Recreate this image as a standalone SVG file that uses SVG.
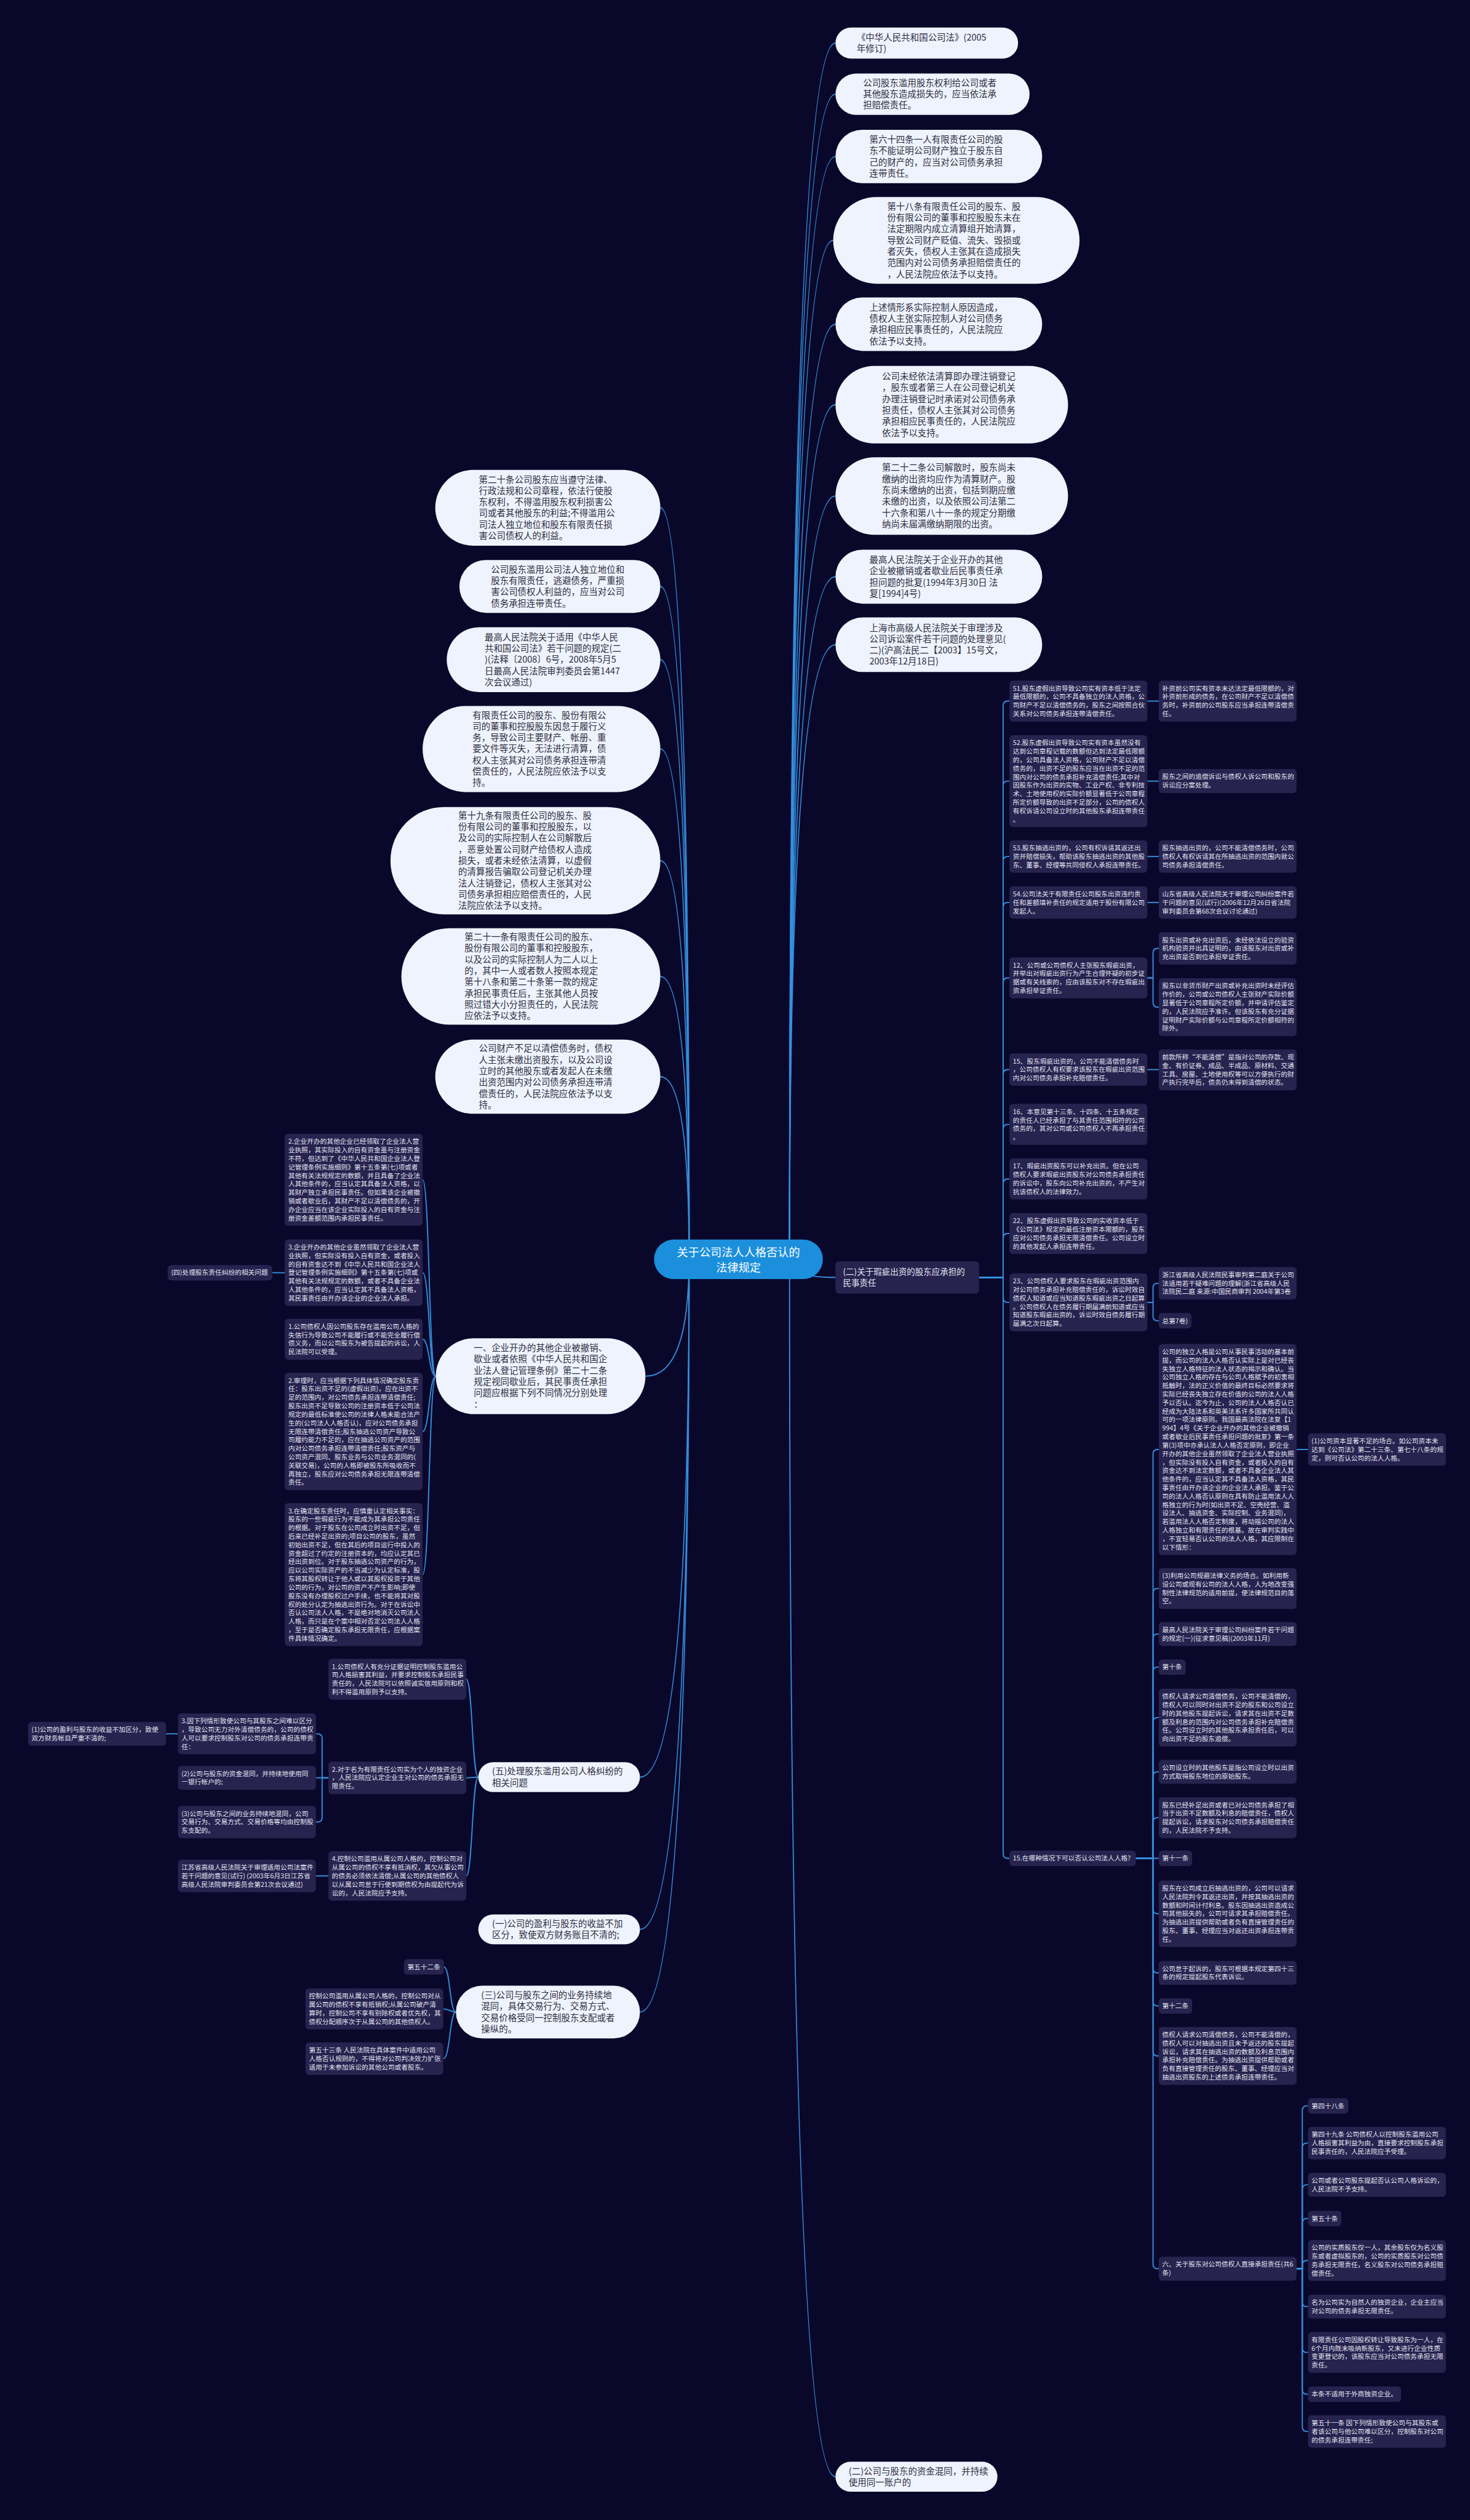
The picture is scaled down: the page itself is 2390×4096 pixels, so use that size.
<svg xmlns="http://www.w3.org/2000/svg" width="2390" height="4096" viewBox="0 0 2390 4096">
<style>
.p{fill:#eef3fd}
.d{fill:#26234f}
.pt{font-family:"Noto Sans CJK SC","Noto Sans",sans-serif;font-size:15.5px;fill:#2e2e3e}
.dt{font-family:"Noto Sans CJK SC","Noto Sans",sans-serif;font-size:11.5px;fill:#e4e4ef}
.dt2{font-family:"Noto Sans CJK SC","Noto Sans",sans-serif;font-size:14.5px;fill:#e4e4ef}
.rt{font-family:"Noto Sans CJK SC","Noto Sans",sans-serif;font-size:19.5px;fill:#ffffff}
#links path{fill:none;stroke:#3490e0;stroke-width:2}
</style>
<rect width="2390" height="4096" fill="#0a082a"/>
<g transform="scale(0.93359)">
<g id="links">
<path d="M1375 2192Q1375 75 1455 75"/>
<path d="M1375 2192Q1375 164 1455 164"/>
<path d="M1375 2192Q1375 272.5 1455 272.5"/>
<path d="M1375 2192Q1375 418.5 1451 418.5"/>
<path d="M1375 2192Q1375 564.5 1455 564.5"/>
<path d="M1375 2192Q1375 704.5 1455 704.5"/>
<path d="M1375 2192Q1375 863.5 1455 863.5"/>
<path d="M1375 2192Q1375 1004 1455 1004"/>
<path d="M1375 2192Q1375 1122.5 1455 1122.5"/>
<path d="M1375 2192Q1375 2224 1455 2224"/>
<path d="M1375 2192Q1375 4312 1455 4312"/>
<path d="M1200 2192Q1200 884 1150 884"/>
<path d="M1200 2192Q1200 1021 1150 1021"/>
<path d="M1200 2192Q1200 1148.5 1150 1148.5"/>
<path d="M1200 2192Q1200 1304 1150 1304"/>
<path d="M1200 2192Q1200 1498.5 1150 1498.5"/>
<path d="M1200 2192Q1200 1700 1150 1700"/>
<path d="M1200 2192Q1200 1874.5 1150 1874.5"/>
<path d="M1200 2192Q1200 2396 1124 2396"/>
<path d="M1200 2192Q1200 3094 1114.5 3094"/>
<path d="M1200 2192Q1200 3359 1114.5 3359"/>
<path d="M1200 2192Q1200 3503 1114.5 3503"/>
<path d="M759 2396C747 2396 748 2054 736 2054"/>
<path d="M759 2396C747 2396 748 2215.8 736 2215.8"/>
<path d="M759 2396C747 2396 748 2331.6 736 2331.6"/>
<path d="M759 2396C747 2396 748 2492.2 736 2492.2"/>
<path d="M759 2396C747 2396 748 2741.4 736 2741.4"/>
<path d="M474 2215.8H496"/>
<path d="M1705 2224H1747V1228.6Q1747 1220.6 1755 1220.6H1758"/>
<path d="M1705 2224H1747V1368Q1747 1360 1755 1360H1758"/>
<path d="M1705 2224H1747V1499.2Q1747 1491.2 1755 1491.2H1758"/>
<path d="M1705 2224H1747V1579.2Q1747 1571.2 1755 1571.2H1758"/>
<path d="M1705 2224H1747V1710.6Q1747 1702.6 1755 1702.6H1758"/>
<path d="M1705 2224H1747V1870.2Q1747 1862.2 1755 1862.2H1758"/>
<path d="M1705 2224H1747V1965.6Q1747 1957.6 1755 1957.6H1758"/>
<path d="M1705 2224H1747V2060.6Q1747 2052.6 1755 2052.6H1758"/>
<path d="M1705 2224H1747V2155.6Q1747 2147.6 1755 2147.6H1758"/>
<path d="M1705 2224H1747V2259.4Q1747 2267.4 1755 2267.4H1758"/>
<path d="M1705 2224H1747V3227.4Q1747 3235.4 1755 3235.4H1758"/>
<path d="M1998 1220.6H2018"/>
<path d="M1998 1360H2018"/>
<path d="M1998 1491.2H2018"/>
<path d="M1998 1571.2H2018"/>
<path d="M1998 1862.2H2018"/>
<path d="M1998 1702.6H2008V1659.2Q2008 1651.2 2016 1651.2H2018"/>
<path d="M1998 1702.6H2008V1745.4Q2008 1753.4 2016 1753.4H2018"/>
<path d="M1998 2267.4H2008V2242.2Q2008 2234.2 2016 2234.2H2018"/>
<path d="M1998 2267.4H2008V2291.4Q2008 2299.4 2016 2299.4H2018"/>
<path d="M1978 3235.4H2008V2531.6Q2008 2523.6 2016 2523.6H2018"/>
<path d="M1978 3235.4H2008V2773.6Q2008 2765.6 2016 2765.6H2018"/>
<path d="M1978 3235.4H2008V2852.8Q2008 2844.8 2016 2844.8H2018"/>
<path d="M1978 3235.4H2008V2910.4Q2008 2902.4 2016 2902.4H2018"/>
<path d="M1978 3235.4H2008V2998.4Q2008 2990.4 2016 2990.4H2018"/>
<path d="M1978 3235.4H2008V3092.8Q2008 3084.8 2016 3084.8H2018"/>
<path d="M1978 3235.4H2008V3172.6Q2008 3164.6 2016 3164.6H2018"/>
<path d="M1978 3235.4H2018"/>
<path d="M1978 3235.4H2008V3323.8Q2008 3331.8 2016 3331.8H2018"/>
<path d="M1978 3235.4H2008V3426.8Q2008 3434.8 2016 3434.8H2018"/>
<path d="M1978 3235.4H2008V3484.4Q2008 3492.4 2016 3492.4H2018"/>
<path d="M1978 3235.4H2008V3571.4Q2008 3579.4 2016 3579.4H2018"/>
<path d="M1978 3235.4H2008V3941.8Q2008 3949.8 2016 3949.8H2018"/>
<path d="M2258 2523.6H2278"/>
<path d="M2258 3949.8H2268V3674.4Q2268 3666.4 2276 3666.4H2278"/>
<path d="M2258 3949.8H2268V3739.2Q2268 3731.2 2276 3731.2H2278"/>
<path d="M2258 3949.8H2268V3811.8Q2268 3803.8 2276 3803.8H2278"/>
<path d="M2258 3949.8H2268V3870.4Q2268 3862.4 2276 3862.4H2278"/>
<path d="M2258 3949.8H2268V3943.6Q2268 3935.6 2276 3935.6H2278"/>
<path d="M2258 3949.8H2268V4007.8Q2268 4015.8 2276 4015.8H2278"/>
<path d="M2258 3949.8H2268V4087.6Q2268 4095.6 2276 4095.6H2278"/>
<path d="M2258 3949.8H2268V4160.4Q2268 4168.4 2276 4168.4H2278"/>
<path d="M2258 3949.8H2268V4225.2Q2268 4233.2 2276 4233.2H2278"/>
<path d="M833 3094C822 3094 823 2923.6 812 2923.6"/>
<path d="M833 3094C822 3094 823 3095.2 812 3095.2"/>
<path d="M833 3094C822 3094 823 3266 812 3266"/>
<path d="M572 3095.2H561V3026.6Q561 3018.6 553 3018.6H550"/>
<path d="M572 3095.2H550"/>
<path d="M572 3095.2H561V3164.2Q561 3172.2 553 3172.2H550"/>
<path d="M310 3018.6H289"/>
<path d="M572 3266H550"/>
<path d="M794 3503C783 3503 784 3424.4 773 3424.4"/>
<path d="M794 3503C783 3503 784 3497.6 772 3497.6"/>
<path d="M794 3503C783 3503 784 3584.2 772 3584.2"/>
</g>

<g id="root"><rect x="1139" y="2158" width="294" height="69" rx="34.5" fill="#1b8fdc"/><text class="rt" text-anchor="middle" y="2187"><tspan x="1286">关于公司法人人格否认的</tspan><tspan x="1286" dy="27">法律规定</tspan></text></g>

<g id="n1"><rect class="p" x="1455" y="48" width="318" height="54" rx="27"/><text class="pt" y="70.6"><tspan x="1492">《中华人民共和国公司法》(2005</tspan><tspan x="1492" dy="19.6">年修订)</tspan></text></g>
<g id="n2"><rect class="p" x="1455" y="128" width="338" height="72" rx="36"/><text class="pt" y="149.8"><tspan x="1503">公司股东滥用股东权利给公司或者</tspan><tspan x="1503" dy="19.6">其他股东造成损失的，应当依法承</tspan><tspan x="1503" dy="19.6">担赔偿责任。</tspan></text></g>
<g id="n3"><rect class="p" x="1455" y="226" width="360" height="93" rx="46.5"/><text class="pt" y="248.5"><tspan x="1514">第六十四条一人有限责任公司的股</tspan><tspan x="1514" dy="19.6">东不能证明公司财产独立于股东自</tspan><tspan x="1514" dy="19.6">己的财产的，应当对公司债务承担</tspan><tspan x="1514" dy="19.6">连带责任。</tspan></text></g>
<g id="n4"><rect class="p" x="1451" y="343" width="429" height="151" rx="75.5"/><text class="pt" y="365.1"><tspan x="1545">第十八条有限责任公司的股东、股</tspan><tspan x="1545" dy="19.6">份有限公司的董事和控股股东未在</tspan><tspan x="1545" dy="19.6">法定期限内成立清算组开始清算，</tspan><tspan x="1545" dy="19.6">导致公司财产贬值、流失、毁损或</tspan><tspan x="1545" dy="19.6">者灭失，债权人主张其在造成损失</tspan><tspan x="1545" dy="19.6">范围内对公司债务承担赔偿责任的</tspan><tspan x="1545" dy="19.6">，人民法院应依法予以支持。</tspan></text></g>
<g id="n5"><rect class="p" x="1455" y="518" width="360" height="93" rx="46.5"/><text class="pt" y="540.5"><tspan x="1514">上述情形系实际控制人原因造成，</tspan><tspan x="1514" dy="19.6">债权人主张实际控制人对公司债务</tspan><tspan x="1514" dy="19.6">承担相应民事责任的，人民法院应</tspan><tspan x="1514" dy="19.6">依法予以支持。</tspan></text></g>
<g id="n6"><rect class="p" x="1455" y="637" width="405" height="135" rx="67.5"/><text class="pt" y="660.9"><tspan x="1536">公司未经依法清算即办理注销登记</tspan><tspan x="1536" dy="19.6">，股东或者第三人在公司登记机关</tspan><tspan x="1536" dy="19.6">办理注销登记时承诺对公司债务承</tspan><tspan x="1536" dy="19.6">担责任，债权人主张其对公司债务</tspan><tspan x="1536" dy="19.6">承担相应民事责任的，人民法院应</tspan><tspan x="1536" dy="19.6">依法予以支持。</tspan></text></g>
<g id="n7"><rect class="p" x="1455" y="796" width="405" height="135" rx="67.5"/><text class="pt" y="819.9"><tspan x="1536">第二十二条公司解散时，股东尚未</tspan><tspan x="1536" dy="19.6">缴纳的出资均应作为清算财产。股</tspan><tspan x="1536" dy="19.6">东尚未缴纳的出资，包括到期应缴</tspan><tspan x="1536" dy="19.6">未缴的出资，以及依照公司法第二</tspan><tspan x="1536" dy="19.6">十六条和第八十一条的规定分期缴</tspan><tspan x="1536" dy="19.6">纳尚未届满缴纳期限的出资。</tspan></text></g>
<g id="n8"><rect class="p" x="1455" y="957" width="360" height="94" rx="47"/><text class="pt" y="980"><tspan x="1514">最高人民法院关于企业开办的其他</tspan><tspan x="1514" dy="19.6">企业被撤销或者歇业后民事责任承</tspan><tspan x="1514" dy="19.6">担问题的批复(1994年3月30日 法</tspan><tspan x="1514" dy="19.6">复[1994]4号)</tspan></text></g>
<g id="n9"><rect class="p" x="1455" y="1075" width="360" height="95" rx="47.5"/><text class="pt" y="1098.5"><tspan x="1514">上海市高级人民法院关于审理涉及</tspan><tspan x="1514" dy="19.6">公司诉讼案件若干问题的处理意见(</tspan><tspan x="1514" dy="19.6">二)(沪高法民二【2003】15号文，</tspan><tspan x="1514" dy="19.6">2003年12月18日)</tspan></text></g>

<g id="l1"><rect class="p" x="758" y="818" width="392" height="132" rx="66"/><text class="pt" y="840.4"><tspan x="834">第二十条公司股东应当遵守法律、</tspan><tspan x="834" dy="19.6">行政法规和公司章程，依法行使股</tspan><tspan x="834" dy="19.6">东权利，不得滥用股东权利损害公</tspan><tspan x="834" dy="19.6">司或者其他股东的利益;不得滥用公</tspan><tspan x="834" dy="19.6">司法人独立地位和股东有限责任损</tspan><tspan x="834" dy="19.6">害公司债权人的利益。</tspan></text></g>
<g id="l2"><rect class="p" x="800" y="975" width="350" height="92" rx="46"/><text class="pt" y="997"><tspan x="855">公司股东滥用公司法人独立地位和</tspan><tspan x="855" dy="19.6">股东有限责任，逃避债务，严重损</tspan><tspan x="855" dy="19.6">害公司债权人利益的，应当对公司</tspan><tspan x="855" dy="19.6">债务承担连带责任。</tspan></text></g>
<g id="l3"><rect class="p" x="778" y="1092" width="372" height="113" rx="56.5"/><text class="pt" y="1114.7"><tspan x="844">最高人民法院关于适用《中华人民</tspan><tspan x="844" dy="19.6">共和国公司法》若干问题的规定(二</tspan><tspan x="844" dy="19.6">)(法释〔2008〕6号，2008年5月5</tspan><tspan x="844" dy="19.6">日最高人民法院审判委员会第1447</tspan><tspan x="844" dy="19.6">次会议通过)</tspan></text></g>
<g id="l4"><rect class="p" x="736" y="1229" width="414" height="150" rx="75"/><text class="pt" y="1250.6"><tspan x="823">有限责任公司的股东、股份有限公</tspan><tspan x="823" dy="19.6">司的董事和控股股东因怠于履行义</tspan><tspan x="823" dy="19.6">务，导致公司主要财产、帐册、重</tspan><tspan x="823" dy="19.6">要文件等灭失，无法进行清算，债</tspan><tspan x="823" dy="19.6">权人主张其对公司债务承担连带清</tspan><tspan x="823" dy="19.6">偿责任的，人民法院应依法予以支</tspan><tspan x="823" dy="19.6">持。</tspan></text></g>
<g id="l5"><rect class="p" x="680" y="1405" width="470" height="187" rx="93.5"/><text class="pt" y="1425.5"><tspan x="798">第十九条有限责任公司的股东、股</tspan><tspan x="798" dy="19.6">份有限公司的董事和控股股东，以</tspan><tspan x="798" dy="19.6">及公司的实际控制人在公司解散后</tspan><tspan x="798" dy="19.6">，恶意处置公司财产给债权人造成</tspan><tspan x="798" dy="19.6">损失，或者未经依法清算，以虚假</tspan><tspan x="798" dy="19.6">的清算报告骗取公司登记机关办理</tspan><tspan x="798" dy="19.6">法人注销登记，债权人主张其对公</tspan><tspan x="798" dy="19.6">司债务承担相应赔偿责任的，人民</tspan><tspan x="798" dy="19.6">法院应依法予以支持。</tspan></text></g>
<g id="l6"><rect class="p" x="699" y="1616" width="451" height="168" rx="84"/><text class="pt" y="1636.8"><tspan x="809">第二十一条有限责任公司的股东、</tspan><tspan x="809" dy="19.6">股份有限公司的董事和控股股东，</tspan><tspan x="809" dy="19.6">以及公司的实际控制人为二人以上</tspan><tspan x="809" dy="19.6">的，其中一人或者数人按照本规定</tspan><tspan x="809" dy="19.6">第十八条和第二十条第一款的规定</tspan><tspan x="809" dy="19.6">承担民事责任后，主张其他人员按</tspan><tspan x="809" dy="19.6">照过错大小分担责任的，人民法院</tspan><tspan x="809" dy="19.6">应依法予以支持。</tspan></text></g>
<g id="l7"><rect class="p" x="758" y="1810" width="392" height="129" rx="64.5"/><text class="pt" y="1830.9"><tspan x="834">公司财产不足以清偿债务时，债权</tspan><tspan x="834" dy="19.6">人主张未缴出资股东，以及公司设</tspan><tspan x="834" dy="19.6">立时的其他股东或者发起人在未缴</tspan><tspan x="834" dy="19.6">出资范围内对公司债务承担连带清</tspan><tspan x="834" dy="19.6">偿责任的，人民法院应依法予以支</tspan><tspan x="834" dy="19.6">持。</tspan></text></g>
<g id="y1"><rect class="p" x="759" y="2330" width="365" height="132" rx="66"/><text class="pt" y="2352.4"><tspan x="825">一、企业开办的其他企业被撤销、</tspan><tspan x="825" dy="19.6">歇业或者依照《中华人民共和国企</tspan><tspan x="825" dy="19.6">业法人登记管理条例》第二十二条</tspan><tspan x="825" dy="19.6">规定视同歇业后，其民事责任承担</tspan><tspan x="825" dy="19.6">问题应根据下列不同情况分别处理</tspan><tspan x="825" dy="19.6">：</tspan></text></g>
<g id="p5"><rect class="p" x="833" y="3068" width="281.5" height="52" rx="26"/><text class="pt" y="3089.6"><tspan x="857">(五)处理股东滥用公司人格纠纷的</tspan><tspan x="857" dy="19.6">相关问题</tspan></text></g>
<g id="p1"><rect class="p" x="833" y="3333" width="281.5" height="52" rx="26"/><text class="pt" y="3354.6"><tspan x="857">(一)公司的盈利与股东的收益不加</tspan><tspan x="857" dy="19.6">区分，致使双方财务账目不清的;</tspan></text></g>
<g id="p3"><rect class="p" x="794" y="3457" width="320.5" height="92" rx="46"/><text class="pt" y="3479"><tspan x="838">(三)公司与股东之间的业务持续地</tspan><tspan x="838" dy="19.6">混同，具体交易行为、交易方式、</tspan><tspan x="838" dy="19.6">交易价格受同一控制股东支配或者</tspan><tspan x="838" dy="19.6">操纵的。</tspan></text></g>
<g id="bp"><rect class="p" x="1455" y="4286" width="282" height="52" rx="26"/><text class="pt" y="4307.6"><tspan x="1478">(二)公司与股东的资金混同，并持续</tspan><tspan x="1478" dy="19.6">使用同一账户的</tspan></text></g>

<g id="b2"><rect class="d" x="1455" y="2196" width="250" height="56" rx="6"/><text class="dt2" y="2219.4"><tspan x="1468">(二)关于瑕疵出资的股东应承担的</tspan><tspan x="1468" dy="19.6">民事责任</tspan></text></g>

<g id="d1"><rect class="d" x="496" y="1974" width="240" height="160" rx="6"/><text class="dt" y="1991.5"><tspan x="502">2.企业开办的其他企业已经领取了企业法人营</tspan><tspan x="502" dy="14.8">业执照，其实际投入的自有资金虽与注册资金</tspan><tspan x="502" dy="14.8">不符，但达到了《中华人民共和国企业法人登</tspan><tspan x="502" dy="14.8">记管理条例实施细则》第十五条第(七)项或者</tspan><tspan x="502" dy="14.8">其他有关法规规定的数额，并且具备了企业法</tspan><tspan x="502" dy="14.8">人其他条件的，应当认定其具备法人资格，以</tspan><tspan x="502" dy="14.8">其财产独立承担民事责任。但如果该企业被撤</tspan><tspan x="502" dy="14.8">销或者歇业后，其财产不足以清偿债务的，开</tspan><tspan x="502" dy="14.8">办企业应当在该企业实际投入的自有资金与注</tspan><tspan x="502" dy="14.8">册资金差额范围内承担民事责任。</tspan></text></g>
<g id="d2"><rect class="d" x="496" y="2158" width="240" height="115.6" rx="6"/><text class="dt" y="2175.5"><tspan x="502">3.企业开办的其他企业虽然领取了企业法人营</tspan><tspan x="502" dy="14.8">业执照，但实际没有投入自有资金，或者投入</tspan><tspan x="502" dy="14.8">的自有资金达不到《中华人民共和国企业法人</tspan><tspan x="502" dy="14.8">登记管理条例实施细则》第十五条第(七)项或</tspan><tspan x="502" dy="14.8">其他有关法规规定的数额，或者不具备企业法</tspan><tspan x="502" dy="14.8">人其他条件的，应当认定其不具备法人资格，</tspan><tspan x="502" dy="14.8">其民事责任由开办该企业的企业法人承担。</tspan></text></g>
<g id="d3"><rect class="d" x="496" y="2296" width="240" height="71.2" rx="6"/><text class="dt" y="2313.5"><tspan x="502">1.公司债权人因公司股东存在滥用公司人格的</tspan><tspan x="502" dy="14.8">失信行为导致公司不能履行或不能完全履行偿</tspan><tspan x="502" dy="14.8">债义务，而以公司股东为被告提起的诉讼，人</tspan><tspan x="502" dy="14.8">民法院可以受理。</tspan></text></g>
<g id="d4"><rect class="d" x="496" y="2390" width="240" height="204.4" rx="6"/><text class="dt" y="2407.5"><tspan x="502">2.审理时，应当根据下列具体情况确定股东责</tspan><tspan x="502" dy="14.8">任：股东出资不足的(虚假出资)，应在出资不</tspan><tspan x="502" dy="14.8">足的范围内，对公司债务承担连带清偿责任;</tspan><tspan x="502" dy="14.8">股东出资不足导致公司的注册资本低于公司法</tspan><tspan x="502" dy="14.8">规定的最低标准使公司的法律人格未能合法产</tspan><tspan x="502" dy="14.8">生的(公司法人人格否认)，应对公司债务承担</tspan><tspan x="502" dy="14.8">无限连带清偿责任;股东抽逃公司资产导致公</tspan><tspan x="502" dy="14.8">司履约能力不足的，应在抽逃公司资产的范围</tspan><tspan x="502" dy="14.8">内对公司债务承担连带清偿责任;股东资产与</tspan><tspan x="502" dy="14.8">公司资产混同、股东业务与公司业务混同的(</tspan><tspan x="502" dy="14.8">关联交易)，公司的人格即被股东所吸收而不</tspan><tspan x="502" dy="14.8">再独立，股东应对公司债务承担无限连带清偿</tspan><tspan x="502" dy="14.8">责任。</tspan></text></g>
<g id="d5"><rect class="d" x="496" y="2617" width="240" height="248.8" rx="6"/><text class="dt" y="2634.5"><tspan x="502">3.在确定股东责任时，应慎重认定相关事实：</tspan><tspan x="502" dy="14.8">股东的一些瑕疵行为不能成为其承担公司责任</tspan><tspan x="502" dy="14.8">的根据。对于股东在公司成立时出资不足，但</tspan><tspan x="502" dy="14.8">后来已经补足出资的;项目公司的股东，虽然</tspan><tspan x="502" dy="14.8">初始出资不足，但在其后的项目运行中投入的</tspan><tspan x="502" dy="14.8">资金超过了约定的注册资本的，均应认定其已</tspan><tspan x="502" dy="14.8">经出资到位。对于股东抽逃公司资产的行为，</tspan><tspan x="502" dy="14.8">应以公司实际资产的不当减少为认定标准，股</tspan><tspan x="502" dy="14.8">东将其股权转让于他人或以其股权投资于其他</tspan><tspan x="502" dy="14.8">公司的行为，对公司的资产不产生影响;即使</tspan><tspan x="502" dy="14.8">股东没有办理股权过户手续，也不能将其对股</tspan><tspan x="502" dy="14.8">权的处分认定为抽逃出资行为。对于在诉讼中</tspan><tspan x="502" dy="14.8">否认公司法人人格，不是绝对地消灭公司法人</tspan><tspan x="502" dy="14.8">人格，而只是在个案中相对否定公司法人人格</tspan><tspan x="502" dy="14.8">，至于是否确定股东承担无限责任，应根据案</tspan><tspan x="502" dy="14.8">件具体情况确定。</tspan></text></g>
<g id="d4h"><rect class="d" x="292" y="2202.4" width="182" height="26.8" rx="6"/><text class="dt" x="298" y="2219.9">(四)处理股东责任纠纷的相关问题</text></g>

<g id="b51"><rect class="d" x="1758" y="1185" width="240" height="71.2" rx="6"/><text class="dt" y="1202.5"><tspan x="1764">51.股东虚假出资导致公司实有资本低于法定</tspan><tspan x="1764" dy="14.8">最低限额的，公司不具备独立的法人资格，公</tspan><tspan x="1764" dy="14.8">司财产不足以清偿债务的，股东之间按照合伙</tspan><tspan x="1764" dy="14.8">关系对公司债务承担连带清偿责任。</tspan></text></g>
<g id="b51c"><rect class="d" x="2018" y="1185" width="240" height="71.2" rx="6"/><text class="dt" y="1202.5"><tspan x="2024">补资前公司实有资本未达法定最低限额的，对</tspan><tspan x="2024" dy="14.8">补资前形成的债务，在公司财产不足以清偿债</tspan><tspan x="2024" dy="14.8">务时，补资前的公司股东应当承担连带清偿责</tspan><tspan x="2024" dy="14.8">任。</tspan></text></g>
<g id="b52"><rect class="d" x="1758" y="1280" width="240" height="160" rx="6"/><text class="dt" y="1297.5"><tspan x="1764">52.股东虚假出资导致公司实有资本虽然没有</tspan><tspan x="1764" dy="14.8">达到公司章程记载的数额但达到法定最低限额</tspan><tspan x="1764" dy="14.8">的，公司具备法人资格，公司财产不足以清偿</tspan><tspan x="1764" dy="14.8">债务的，出资不足的股东应当在出资不足的范</tspan><tspan x="1764" dy="14.8">围内对公司的债务承担补充清偿责任;其中对</tspan><tspan x="1764" dy="14.8">因股东作为出资的实物、工业产权、非专利技</tspan><tspan x="1764" dy="14.8">术、土地使用权的实际价额显著低于公司章程</tspan><tspan x="1764" dy="14.8">所定价额导致的出资不足部分，公司的债权人</tspan><tspan x="1764" dy="14.8">有权诉请公司设立时的其他股东承担连带责任</tspan><tspan x="1764" dy="14.8">。</tspan></text></g>
<g id="b52c"><rect class="d" x="2018" y="1339" width="240" height="41.6" rx="6"/><text class="dt" y="1356.5"><tspan x="2024">股东之间的追偿诉讼与债权人诉公司和股东的</tspan><tspan x="2024" dy="14.8">诉讼应分案处理。</tspan></text></g>
<g id="b53"><rect class="d" x="1758" y="1463" width="240" height="56.4" rx="6"/><text class="dt" y="1480.5"><tspan x="1764">53.股东抽逃出资的，公司有权诉请其返还出</tspan><tspan x="1764" dy="14.8">资并赔偿损失，帮助该股东抽逃出资的其他股</tspan><tspan x="1764" dy="14.8">东、董事、经理等共同侵权人承担连带责任。</tspan></text></g>
<g id="b53c"><rect class="d" x="2018" y="1463" width="240" height="56.4" rx="6"/><text class="dt" y="1480.5"><tspan x="2024">股东抽逃出资的，公司不能清偿债务时，公司</tspan><tspan x="2024" dy="14.8">债权人有权诉请其在所抽逃出资的范围内就公</tspan><tspan x="2024" dy="14.8">司债务承担清偿责任。</tspan></text></g>
<g id="b54"><rect class="d" x="1758" y="1543" width="240" height="56.4" rx="6"/><text class="dt" y="1560.5"><tspan x="1764">54.公司法关于有限责任公司股东出资违约责</tspan><tspan x="1764" dy="14.8">任和差额填补责任的规定适用于股份有限公司</tspan><tspan x="1764" dy="14.8">发起人。</tspan></text></g>
<g id="b54c"><rect class="d" x="2018" y="1543" width="240" height="56.4" rx="6"/><text class="dt" y="1560.5"><tspan x="2024">山东省高级人民法院关于审理公司纠纷案件若</tspan><tspan x="2024" dy="14.8">干问题的意见(试行)(2006年12月26日省法院</tspan><tspan x="2024" dy="14.8">审判委员会第68次会议讨论通过)</tspan></text></g>
<g id="b12"><rect class="d" x="1758" y="1667" width="240" height="71.2" rx="6"/><text class="dt" y="1684.5"><tspan x="1764">12、公司或公司债权人主张股东瑕疵出资，</tspan><tspan x="1764" dy="14.8">并举出对瑕疵出资行为产生合理怀疑的初步证</tspan><tspan x="1764" dy="14.8">据或有关线索的，应由该股东对不存在瑕疵出</tspan><tspan x="1764" dy="14.8">资承担举证责任。</tspan></text></g>
<g id="b12c1"><rect class="d" x="2018" y="1623" width="240" height="56.4" rx="6"/><text class="dt" y="1640.5"><tspan x="2024">股东出资或补充出资后，未经依法设立的验资</tspan><tspan x="2024" dy="14.8">机构验资并出具证明的，由该股东对出资或补</tspan><tspan x="2024" dy="14.8">充出资是否到位承担举证责任。</tspan></text></g>
<g id="b12c2"><rect class="d" x="2018" y="1703" width="240" height="100.8" rx="6"/><text class="dt" y="1720.5"><tspan x="2024">股东以非货币财产出资或补充出资时未经评估</tspan><tspan x="2024" dy="14.8">作价的，公司或公司债权人主张财产实际价额</tspan><tspan x="2024" dy="14.8">显著低于公司章程所定价额，并申请评估鉴定</tspan><tspan x="2024" dy="14.8">的，人民法院应予准许。但该股东有充分证据</tspan><tspan x="2024" dy="14.8">证明财产实际价额与公司章程所定价额相符的</tspan><tspan x="2024" dy="14.8">除外。</tspan></text></g>
<g id="b15"><rect class="d" x="1758" y="1834" width="240" height="56.4" rx="6"/><text class="dt" y="1851.5"><tspan x="1764">15、股东瑕疵出资的，公司不能清偿债务时</tspan><tspan x="1764" dy="14.8">，公司债权人有权要求该股东在瑕疵出资范围</tspan><tspan x="1764" dy="14.8">内对公司债务承担补充赔偿责任。</tspan></text></g>
<g id="b15c"><rect class="d" x="2018" y="1827" width="240" height="71.2" rx="6"/><text class="dt" y="1844.5"><tspan x="2024">前款所称“不能清偿”是指对公司的存款、现</tspan><tspan x="2024" dy="14.8">金、有价证券、成品、半成品、原材料、交通</tspan><tspan x="2024" dy="14.8">工具、房屋、土地使用权等可以方便执行的财</tspan><tspan x="2024" dy="14.8">产执行完毕后，债务仍未得到清偿的状态。</tspan></text></g>
<g id="b16"><rect class="d" x="1758" y="1922" width="240" height="71.2" rx="6"/><text class="dt" y="1939.5"><tspan x="1764">16、本意见第十三条、十四条、十五条规定</tspan><tspan x="1764" dy="14.8">的责任人已经承担了与其责任范围相符的公司</tspan><tspan x="1764" dy="14.8">债务的，其对公司或公司债权人不再承担责任</tspan><tspan x="1764" dy="14.8">。</tspan></text></g>
<g id="b17"><rect class="d" x="1758" y="2017" width="240" height="71.2" rx="6"/><text class="dt" y="2034.5"><tspan x="1764">17、瑕疵出资股东可以补充出资。但在公司</tspan><tspan x="1764" dy="14.8">债权人要求瑕疵出资股东对公司债务承担责任</tspan><tspan x="1764" dy="14.8">的诉讼中，股东向公司补充出资的，不产生对</tspan><tspan x="1764" dy="14.8">抗该债权人的法律效力。</tspan></text></g>
<g id="b22"><rect class="d" x="1758" y="2112" width="240" height="71.2" rx="6"/><text class="dt" y="2129.5"><tspan x="1764">22、股东虚假出资导致公司的实收资本低于</tspan><tspan x="1764" dy="14.8">《公司法》规定的最低注册资本限额的，股东</tspan><tspan x="1764" dy="14.8">应对公司债务承担无限清偿责任。公司设立时</tspan><tspan x="1764" dy="14.8">的其他发起人承担连带责任。</tspan></text></g>
<g id="b23"><rect class="d" x="1758" y="2217" width="240" height="100.8" rx="6"/><text class="dt" y="2234.5"><tspan x="1764">23、公司债权人要求股东在瑕疵出资范围内</tspan><tspan x="1764" dy="14.8">对公司债务承担补充赔偿责任的，诉讼时效自</tspan><tspan x="1764" dy="14.8">债权人知道或应当知道股东瑕疵出资之日起算</tspan><tspan x="1764" dy="14.8">。公司债权人在债务履行期届满前知道或应当</tspan><tspan x="1764" dy="14.8">知道股东瑕疵出资的，诉讼时效自债务履行期</tspan><tspan x="1764" dy="14.8">届满之次日起算。</tspan></text></g>
<g id="b23c1"><rect class="d" x="2018" y="2206" width="240" height="56.4" rx="6"/><text class="dt" y="2223.5"><tspan x="2024">浙江省高级人民法院民事审判第二庭关于公司</tspan><tspan x="2024" dy="14.8">法适用若干疑难问题的理解(浙江省高级人民</tspan><tspan x="2024" dy="14.8">法院民二庭 来源:中国民商审判 2004年第3卷</tspan></text></g>
<g id="b23c2"><rect class="d" x="2018" y="2286" width="57" height="26.8" rx="6"/><text class="dt" x="2024" y="2303.5">总第7卷)</text></g>
<g id="b15q"><rect class="d" x="1758" y="3222" width="220" height="26.8" rx="6"/><text class="dt" x="1764" y="3239.5">15.在哪种情况下可以否认公司法人人格?</text></g>

<g id="c1"><rect class="d" x="2018" y="2340" width="240" height="367.2" rx="6"/><text class="dt" y="2357.5"><tspan x="2024">公司的独立人格是公司从事民事活动的基本前</tspan><tspan x="2024" dy="14.8">提，而公司的法人人格否认实际上是对已经丧</tspan><tspan x="2024" dy="14.8">失独立人格特征的法人状态的揭示和确认。当</tspan><tspan x="2024" dy="14.8">公司独立人格的存在与公司人格赋予的初衷相</tspan><tspan x="2024" dy="14.8">抵触时，法的正义价值的最终目标必然要求将</tspan><tspan x="2024" dy="14.8">实际已经丧失独立存在价值的公司的法人人格</tspan><tspan x="2024" dy="14.8">予以否认。迄今为止，公司的法人人格否认已</tspan><tspan x="2024" dy="14.8">经成为大陆法系和英美法系许多国家所共同认</tspan><tspan x="2024" dy="14.8">可的一项法律原则。我国最高法院在法复【1</tspan><tspan x="2024" dy="14.8">994】4号《关于企业开办的其他企业被撤销</tspan><tspan x="2024" dy="14.8">或者歇业后民事责任承担问题的批复》第一条</tspan><tspan x="2024" dy="14.8">第(3)项中亦承认法人人格否定原则，即企业</tspan><tspan x="2024" dy="14.8">开办的其他企业虽然领取了企业法人营业执照</tspan><tspan x="2024" dy="14.8">，但实际没有投入自有资金，或者投入的自有</tspan><tspan x="2024" dy="14.8">资金达不到法定数额，或者不具备企业法人其</tspan><tspan x="2024" dy="14.8">他条件的，应当认定其不具备法人资格，其民</tspan><tspan x="2024" dy="14.8">事责任由开办该企业的企业法人承担。鉴于公</tspan><tspan x="2024" dy="14.8">司的法人人格否认原则在具有防止滥用法人人</tspan><tspan x="2024" dy="14.8">格独立的行为时(如出资不足、空壳经营、滥</tspan><tspan x="2024" dy="14.8">设法人、抽逃资金、实际控制、业务混同)，</tspan><tspan x="2024" dy="14.8">若滥用法人人格否定制度，将动摇公司的法人</tspan><tspan x="2024" dy="14.8">人格独立和有限责任的根基。故在审判实践中</tspan><tspan x="2024" dy="14.8">，不宜轻易否认公司的法人人格，其应限制在</tspan><tspan x="2024" dy="14.8">以下情形：</tspan></text></g>
<g id="c1c"><rect class="d" x="2278" y="2495.4" width="240" height="56.4" rx="6"/><text class="dt" y="2512.9"><tspan x="2284">(1)公司资本显著不足的场合。如公司资本未</tspan><tspan x="2284" dy="14.8">达到《公司法》第二十三条、第七十八条的规</tspan><tspan x="2284" dy="14.8">定，则可否认公司的法人人格。</tspan></text></g>
<g id="c2"><rect class="d" x="2018" y="2730" width="240" height="71.2" rx="6"/><text class="dt" y="2747.5"><tspan x="2024">(3)利用公司规避法律义务的场合。如利用新</tspan><tspan x="2024" dy="14.8">设公司或现有公司的法人人格，人为地改变强</tspan><tspan x="2024" dy="14.8">制性法律规范的适用前提，使法律规范目的落</tspan><tspan x="2024" dy="14.8">空。</tspan></text></g>
<g id="c3"><rect class="d" x="2018" y="2824" width="240" height="41.6" rx="6"/><text class="dt" y="2841.5"><tspan x="2024">最高人民法院关于审理公司纠纷案件若干问题</tspan><tspan x="2024" dy="14.8">的规定(一)(征求意见稿)(2003年11月)</tspan></text></g>
<g id="c4"><rect class="d" x="2018" y="2889" width="47" height="26.8" rx="6"/><text class="dt" x="2024" y="2906.5">第十条</text></g>
<g id="c5"><rect class="d" x="2018" y="2940" width="240" height="100.8" rx="6"/><text class="dt" y="2957.5"><tspan x="2024">债权人请求公司清偿债务，公司不能清偿的，</tspan><tspan x="2024" dy="14.8">债权人可以同时对出资不足的股东和公司设立</tspan><tspan x="2024" dy="14.8">时的其他股东提起诉讼，请求其在出资不足数</tspan><tspan x="2024" dy="14.8">额及利息的范围内对公司债务承担补充赔偿责</tspan><tspan x="2024" dy="14.8">任。公司设立时的其他股东承担责任后，可以</tspan><tspan x="2024" dy="14.8">向出资不足的股东追偿。</tspan></text></g>
<g id="c6"><rect class="d" x="2018" y="3064" width="240" height="41.6" rx="6"/><text class="dt" y="3081.5"><tspan x="2024">公司设立时的其他股东是指公司设立时以出资</tspan><tspan x="2024" dy="14.8">方式取得股东地位的原始股东。</tspan></text></g>
<g id="c7"><rect class="d" x="2018" y="3129" width="240" height="71.2" rx="6"/><text class="dt" y="3146.5"><tspan x="2024">股东已经补足出资或者已对公司债务承担了相</tspan><tspan x="2024" dy="14.8">当于出资不足数额及利息的赔偿责任，债权人</tspan><tspan x="2024" dy="14.8">提起诉讼，请求股东对公司债务承担赔偿责任</tspan><tspan x="2024" dy="14.8">的，人民法院不予支持。</tspan></text></g>
<g id="c8"><rect class="d" x="2018" y="3222" width="58" height="26.8" rx="6"/><text class="dt" x="2024" y="3239.5">第十一条</text></g>
<g id="c9"><rect class="d" x="2018" y="3274" width="240" height="115.6" rx="6"/><text class="dt" y="3291.5"><tspan x="2024">股东在公司成立后抽逃出资的，公司可以请求</tspan><tspan x="2024" dy="14.8">人民法院判令其返还出资，并按其抽逃出资的</tspan><tspan x="2024" dy="14.8">数额和时间计付利息。股东因抽逃出资造成公</tspan><tspan x="2024" dy="14.8">司其他损失的，公司可请求其承担赔偿责任。</tspan><tspan x="2024" dy="14.8">为抽逃出资提供帮助或者负有直接管理责任的</tspan><tspan x="2024" dy="14.8">股东、董事、经理应当对返还出资承担连带责</tspan><tspan x="2024" dy="14.8">任。</tspan></text></g>
<g id="c10"><rect class="d" x="2018" y="3414" width="240" height="41.6" rx="6"/><text class="dt" y="3431.5"><tspan x="2024">公司怠于起诉的，股东可根据本规定第四十三</tspan><tspan x="2024" dy="14.8">条的规定提起股东代表诉讼。</tspan></text></g>
<g id="c11"><rect class="d" x="2018" y="3479" width="58" height="26.8" rx="6"/><text class="dt" x="2024" y="3496.5">第十二条</text></g>
<g id="c12"><rect class="d" x="2018" y="3529" width="240" height="100.8" rx="6"/><text class="dt" y="3546.5"><tspan x="2024">债权人请求公司清偿债务，公司不能清偿的，</tspan><tspan x="2024" dy="14.8">债权人可以对抽逃出资且未予返还的股东提起</tspan><tspan x="2024" dy="14.8">诉讼，请求其在抽逃出资的数额及利息范围内</tspan><tspan x="2024" dy="14.8">承担补充赔偿责任。为抽逃出资提供帮助或者</tspan><tspan x="2024" dy="14.8">负有直接管理责任的股东、董事、经理应当对</tspan><tspan x="2024" dy="14.8">抽逃出资股东的上述债务承担连带责任。</tspan></text></g>
<g id="c13"><rect class="d" x="2018" y="3929" width="240" height="41.6" rx="6"/><text class="dt" y="3946.5"><tspan x="2024">六、关于股东对公司债权人直接承担责任(共6</tspan><tspan x="2024" dy="14.8">条)</tspan></text></g>
<g id="r1"><rect class="d" x="2278" y="3653" width="70" height="26.8" rx="6"/><text class="dt" x="2284" y="3670.5">第四十八条</text></g>
<g id="r2"><rect class="d" x="2278" y="3703" width="240" height="56.4" rx="6"/><text class="dt" y="3720.5"><tspan x="2284">第四十九条 公司债权人以控制股东滥用公司</tspan><tspan x="2284" dy="14.8">人格损害其利益为由，直接要求控制股东承担</tspan><tspan x="2284" dy="14.8">民事责任的，人民法院应予受理。</tspan></text></g>
<g id="r3"><rect class="d" x="2278" y="3783" width="240" height="41.6" rx="6"/><text class="dt" y="3800.5"><tspan x="2284">公司或者公司股东提起否认公司人格诉讼的，</tspan><tspan x="2284" dy="14.8">人民法院不予支持。</tspan></text></g>
<g id="r4"><rect class="d" x="2278" y="3849" width="58" height="26.8" rx="6"/><text class="dt" x="2284" y="3866.5">第五十条</text></g>
<g id="r5"><rect class="d" x="2278" y="3900" width="240" height="71.2" rx="6"/><text class="dt" y="3917.5"><tspan x="2284">公司的实质股东仅一人，其余股东仅为名义股</tspan><tspan x="2284" dy="14.8">东或者虚拟股东的，公司的实质股东对公司债</tspan><tspan x="2284" dy="14.8">务承担无限责任，名义股东对公司债务承担赔</tspan><tspan x="2284" dy="14.8">偿责任。</tspan></text></g>
<g id="r6"><rect class="d" x="2278" y="3995" width="240" height="41.6" rx="6"/><text class="dt" y="4012.5"><tspan x="2284">名为公司实为自然人的独资企业，企业主应当</tspan><tspan x="2284" dy="14.8">对公司的债务承担无限责任。</tspan></text></g>
<g id="r7"><rect class="d" x="2278" y="4060" width="240" height="71.2" rx="6"/><text class="dt" y="4077.5"><tspan x="2284">有限责任公司因股权转让导致股东为一人，在</tspan><tspan x="2284" dy="14.8">6个月内既未吸纳新股东，又未进行企业性质</tspan><tspan x="2284" dy="14.8">变更登记的，该股东应当对公司债务承担无限</tspan><tspan x="2284" dy="14.8">责任。</tspan></text></g>
<g id="r8"><rect class="d" x="2278" y="4155" width="162" height="26.8" rx="6"/><text class="dt" x="2284" y="4172.5">本条不适用于外商独资企业。</text></g>
<g id="r9"><rect class="d" x="2278" y="4205" width="240" height="56.4" rx="6"/><text class="dt" y="4222.5"><tspan x="2284">第五十一条 因下列情形致使公司与其股东或</tspan><tspan x="2284" dy="14.8">者该公司与他公司难以区分，控制股东对公司</tspan><tspan x="2284" dy="14.8">的债务承担连带责任;</tspan></text></g>

<g id="e1"><rect class="d" x="572" y="2888" width="240" height="71.2" rx="6"/><text class="dt" y="2905.5"><tspan x="578">1.公司债权人有充分证据证明控制股东滥用公</tspan><tspan x="578" dy="14.8">司人格损害其利益，并要求控制股东承担民事</tspan><tspan x="578" dy="14.8">责任的，人民法院可以依照诚实信用原则和权</tspan><tspan x="578" dy="14.8">利不得滥用原则予以支持。</tspan></text></g>
<g id="e2"><rect class="d" x="572" y="3067" width="240" height="56.4" rx="6"/><text class="dt" y="3084.5"><tspan x="578">2.对于名为有限责任公司实为个人的独资企业</tspan><tspan x="578" dy="14.8">，人民法院应认定企业主对公司的债务承担无</tspan><tspan x="578" dy="14.8">限责任。</tspan></text></g>
<g id="e4"><rect class="d" x="572" y="3223" width="240" height="86" rx="6"/><text class="dt" y="3240.5"><tspan x="578">4.控制公司滥用从属公司人格的，控制公司对</tspan><tspan x="578" dy="14.8">从属公司的债权不享有抵消权，其欠从事公司</tspan><tspan x="578" dy="14.8">的债务必须依法清偿;从属公司的其他债权人</tspan><tspan x="578" dy="14.8">以从属公司怠于行使到期债权为由提起代为诉</tspan><tspan x="578" dy="14.8">讼的，人民法院应予支持。</tspan></text></g>
<g id="f3"><rect class="d" x="310" y="2983" width="240" height="71.2" rx="6"/><text class="dt" y="3000.5"><tspan x="316">3.因下列情形致使公司与其股东之间难以区分</tspan><tspan x="316" dy="14.8">，导致公司无力对外清偿债务的，公司的债权</tspan><tspan x="316" dy="14.8">人可以要求控制股东对公司的债务承担连带责</tspan><tspan x="316" dy="14.8">任：</tspan></text></g>
<g id="f2"><rect class="d" x="310" y="3074.4" width="240" height="41.6" rx="6"/><text class="dt" y="3091.9"><tspan x="316">(2)公司与股东的资金混同，并持续地使用同</tspan><tspan x="316" dy="14.8">一银行帐户的;</tspan></text></g>
<g id="f3b"><rect class="d" x="310" y="3144" width="240" height="56.4" rx="6"/><text class="dt" y="3161.5"><tspan x="316">(3)公司与股东之间的业务持续地混同，公司</tspan><tspan x="316" dy="14.8">交易行为、交易方式、交易价格等均由控制股</tspan><tspan x="316" dy="14.8">东支配的。</tspan></text></g>
<g id="g1"><rect class="d" x="49" y="2997.8" width="240" height="41.6" rx="6"/><text class="dt" y="3015.3"><tspan x="55">(1)公司的盈利与股东的收益不加区分，致使</tspan><tspan x="55" dy="14.8">双方财务帐目严重不清的;</tspan></text></g>
<g id="h1"><rect class="d" x="310" y="3237.8" width="240" height="56.4" rx="6"/><text class="dt" y="3255.3"><tspan x="316">江苏省高级人民法院关于审理适用公司法案件</tspan><tspan x="316" dy="14.8">若干问题的意见(试行) (2003年6月3日江苏省</tspan><tspan x="316" dy="14.8">高级人民法院审判委员会第21次会议通过)</tspan></text></g>
<g id="q1"><rect class="d" x="703.5" y="3411" width="69.5" height="26.8" rx="6"/><text class="dt" x="709.5" y="3428.5">第五十二条</text></g>
<g id="q2"><rect class="d" x="532" y="3462" width="240" height="71.2" rx="6"/><text class="dt" y="3479.5"><tspan x="538">控制公司滥用从属公司人格的，控制公司对从</tspan><tspan x="538" dy="14.8">属公司的债权不享有抵销权;从属公司破产清</tspan><tspan x="538" dy="14.8">算时，控制公司不享有别除权或者优先权，其</tspan><tspan x="538" dy="14.8">债权分配顺序次于从属公司的其他债权人。</tspan></text></g>
<g id="q3"><rect class="d" x="532" y="3556" width="240" height="56.4" rx="6"/><text class="dt" y="3573.5"><tspan x="538">第五十三条 人民法院在具体案件中适用公司</tspan><tspan x="538" dy="14.8">人格否认规则的，不得将对公司判决效力扩张</tspan><tspan x="538" dy="14.8">适用于未参加诉讼的其他公司或者股东。</tspan></text></g>
</g>
</svg>
